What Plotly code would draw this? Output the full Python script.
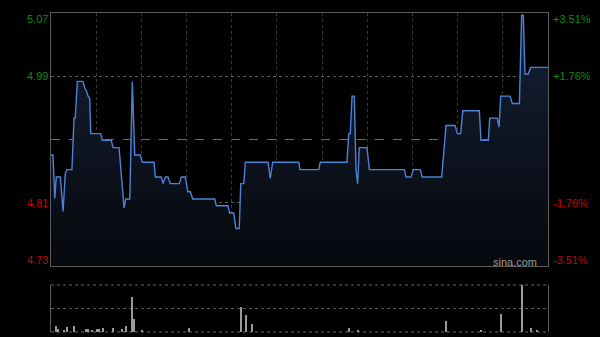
import plotly.graph_objects as go

# ---- data (minutes since 09:30 on a 330-minute HK trading axis) ----
price_minutes = [0, 1.3, 2.5, 3.5, 6.2, 8, 9.5, 10.6, 13.9, 15.3, 16.1, 17.5, 21.2, 22.4, 23.4, 24.6,
                 25.7, 26.4, 33, 34.1, 40, 41.2, 45.2, 48.5, 49.6, 52.3, 54, 55.6, 59.3, 60.6, 68.4,
                 69.3, 73.2, 74.4, 75.9, 77.7, 79.2, 85.2, 86.5, 89.2, 90.8, 92.5, 94.1, 108.7, 109.8,
                 117.5, 118.6, 121.3, 122.8, 125, 126, 128, 129, 144.1, 145.6, 147.2, 164.5, 165.3,
                 177.8, 178.8, 196.5, 197.7, 198.7, 199.9, 201.4, 202.5, 203.6, 204.7, 209.8, 211.4,
                 234.6, 235.7, 239, 240.6, 245.2, 246.5, 259.4, 262.3, 268.3, 269.8, 272, 273.4,
                 284.4, 285.5, 290.4, 291.3, 296.3, 297.5, 298.6, 304.8, 306.3, 311, 312.5, 313.6,
                 314.7, 316.9, 318.5, 330]
prices = [4.877, 4.877, 4.818, 4.847, 4.847, 4.800, 4.852, 4.857, 4.857, 4.927, 4.927, 4.977, 4.977,
          4.968, 4.965, 4.957, 4.954, 4.906, 4.906, 4.897, 4.897, 4.887, 4.887, 4.805, 4.817, 4.817,
          4.977, 4.877, 4.877, 4.867, 4.867, 4.847, 4.847, 4.838, 4.847, 4.847, 4.838, 4.838, 4.847,
          4.847, 4.827, 4.827, 4.817, 4.817, 4.808, 4.808, 4.798, 4.798, 4.777, 4.777, 4.838, 4.838,
          4.867, 4.867, 4.845, 4.867, 4.867, 4.857, 4.857, 4.867, 4.867, 4.906, 4.906, 4.957, 4.957,
          4.857, 4.838, 4.887, 4.887, 4.857, 4.857, 4.847, 4.847, 4.857, 4.857, 4.847, 4.847, 4.917,
          4.917, 4.906, 4.906, 4.937, 4.937, 4.897, 4.897, 4.927, 4.927, 4.915, 4.957, 4.957, 4.947,
          4.947, 5.067, 5.067, 4.987, 4.987, 4.996, 4.996]

volume_minutes = [3.1, 4.8, 8.6, 10.4, 15.5, 23, 24.8, 27, 30.3, 31.9, 34.7, 41.4, 46.9, 49.8, 53.6,
                  55.3, 60.2, 91.6, 126.4, 129.5, 133.3, 198.1, 204.1, 262.1, 285.5, 298.8, 313,
                  318.5, 322.9]
volumes = [114, 68, 48, 100, 120, 60, 68, 48, 60, 60, 88, 88, 68, 114, 688, 254, 48, 88, 500, 334,
           168, 80, 48, 220, 34, 354, 934, 88, 34]

prev_close = 4.898
y_min, y_max = 4.726, 5.070
left_ticks = [5.070, 4.984, 4.812, 4.726]
left_labels = ["5.07", "4.99", "4.81", "4.73"]
right_labels = ["+3.51%", "+1.76%", "-1.76%", "-3.51%"]
grid_minutes = [30, 60, 90, 120, 150, 180, 210, 240, 270, 300]

GREEN = "#0c8c0c"
RED = "#cc0000"

fig = go.Figure()

fig.add_trace(go.Scatter(
    x=price_minutes, y=prices, mode="lines",
    line=dict(color="#4d82d6", width=1.4),
    fill="tozeroy",
    fillgradient=dict(type="vertical", start=y_min, stop=y_max,
                      colorscale=[[0, "rgb(6,8,12)"], [1, "rgb(21,33,55)"]]),
    hoverinfo="skip", showlegend=False, xaxis="x", yaxis="y"))

fig.add_trace(go.Bar(
    x=volume_minutes, y=volumes, width=0.7,
    marker=dict(color="#9a9a9a", line=dict(width=0)),
    hoverinfo="skip", showlegend=False, xaxis="x2", yaxis="y2"))

vmax = max(volumes)

fig.add_shape(type="line", xref="x domain", yref="y", x0=0, x1=1, y0=prev_close, y1=prev_close,
              line=dict(color="#6a6a6a", width=1, dash="dash"), layer="below")
# dotted top/bottom frame of the volume panel
for yy in (0, 1):
    fig.add_shape(type="line", xref="x2 domain", yref="y2 domain", x0=0, x1=1, y0=yy, y1=yy,
                  line=dict(color="#6a6a6a", width=1, dash="dot"), layer="below")

anns = []
for v, lt, rt in zip(left_ticks, left_labels, right_labels):
    col = GREEN if v > prev_close else RED
    if v == y_max:
        ya, ys = "top", 2
    elif v == y_min:
        ya, ys = "bottom", -2
    else:
        ya, ys = "middle", 0
    anns.append(dict(x=0, xref="paper", y=v, yref="y", text=lt, showarrow=False,
                     xanchor="right", yanchor=ya, xshift=-1, yshift=ys,
                     font=dict(family="Arial, Liberation Sans", size=11, color=col)))
    anns.append(dict(x=1, xref="paper", y=v, yref="y", text=rt, showarrow=False,
                     xanchor="left", yanchor=ya, xshift=3, yshift=ys,
                     font=dict(family="Arial, Liberation Sans", size=11, color=col)))
anns.append(dict(x=1, xref="x domain", y=0, yref="y domain", text="sina.com", showarrow=False,
                 xanchor="right", yanchor="bottom", xshift=-9, yshift=-4,
                 font=dict(family="Arial, Liberation Sans", size=11, color="#9a9a9a")))

fig.update_layout(
    width=600, height=337,
    margin=dict(l=51, r=52, t=13, b=5),
    paper_bgcolor="black", plot_bgcolor="black",
    showlegend=False, bargap=0,
    annotations=anns,
    xaxis=dict(domain=[0, 1], range=[0, 330], tickvals=grid_minutes, showticklabels=False,
               ticks="", showgrid=True, gridcolor="#3a3a3a", griddash="dot", gridwidth=1,
               zeroline=False, showline=True, mirror=True, linecolor="#5c5c5c", linewidth=1,
               anchor="y"),
    yaxis=dict(domain=[0.2069, 1], range=[y_min, y_max], tickvals=[4.812, 4.984],
               showticklabels=False, ticks="", showgrid=True, gridcolor="#5a5a5a",
               griddash="dot", gridwidth=1, zeroline=False, showline=True, mirror=True,
               linecolor="#5c5c5c", linewidth=1, anchor="x"),
    xaxis2=dict(domain=[0, 1], range=[0, 330], showticklabels=False, ticks="",
                showgrid=False, zeroline=False, showline=False, anchor="y2"),
    yaxis2=dict(domain=[0, 0.1473], range=[0, vmax], tickvals=[vmax / 2],
                showticklabels=False, ticks="", showgrid=True, gridcolor="#5a5a5a",
                griddash="dot", gridwidth=1, zeroline=False, showline=True, mirror=True,
                linecolor="#5c5c5c", linewidth=1, anchor="x2"),
)

fig.write_html("out.html")
